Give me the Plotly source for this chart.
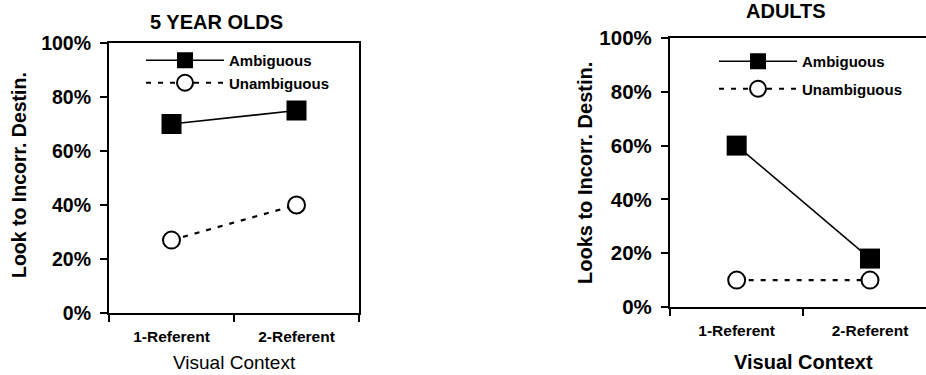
import plotly.graph_objects as go

categories = ["1-Referent", "2-Referent"]
kids_ambiguous = [70, 75]
kids_unambiguous = [27, 40]
adults_ambiguous = [60, 18]
adults_unambiguous = [10, 10]
y_ticks = [0, 20, 40, 60, 80, 100]
y_tick_labels = ["0%", "20%", "40%", "60%", "80%", "100%"]

FONT = "Arial, Liberation Sans, sans-serif"
W, H = 926, 375

def px(x):
    return x / W

def py(y):
    return 1 - y / H

fig = go.Figure()

def add_pair(amb, unamb, xa, ya, legend):
    fig.add_trace(go.Scatter(
        x=categories, y=amb, name="Ambiguous", mode="lines+markers",
        xaxis=xa, yaxis=ya, legend=legend, legendgroup=legend + "a",
        line=dict(color="black", width=1.6),
        marker=dict(symbol="square", size=20, color="black"),
    ))
    fig.add_trace(go.Scatter(
        x=categories, y=unamb, name="Unambiguous", mode="lines+markers",
        xaxis=xa, yaxis=ya, legend=legend, legendgroup=legend + "u",
        line=dict(color="black", width=2.2, dash="5px,7px"),
        marker=dict(symbol="circle", size=17, color="white",
                    line=dict(color="black", width=2)),
    ))

add_pair(kids_ambiguous, kids_unambiguous, "x", "y", "legend")
add_pair(adults_ambiguous, adults_unambiguous, "x2", "y2", "legend2")

axis_common = dict(showgrid=False, zeroline=False, showline=True,
                   linecolor="black", linewidth=2.2, ticks="outside",
                   tickcolor="black", tickwidth=2, ticklen=7,
                   automargin=False)

fig.update_layout(
    template="none",
    width=W, height=H,
    margin=dict(l=0, r=0, t=0, b=0, autoexpand=False),
    paper_bgcolor="white", plot_bgcolor="white",
    font=dict(family=FONT, color="black"),
    xaxis=dict(domain=[px(109), px(359)], anchor="y", type="category",
               range=[-0.5, 1.5], tickson="boundaries", mirror=True,
               tickfont=dict(size=15.5, weight="bold"), ticklabelstandoff=8,
               **axis_common),
    yaxis=dict(domain=[py(313), py(43)], anchor="x", range=[0, 100],
               tickvals=y_ticks, ticktext=y_tick_labels, mirror=True,
               tickfont=dict(size=19.5, weight="bold"), ticklabelstandoff=5,
               **axis_common),
    xaxis2=dict(domain=[px(670), 1.0], anchor="y2", type="category",
                range=[-0.5, 1.42], tickson="boundaries", mirror=True,
                tickfont=dict(size=15.5, weight="bold"), ticklabelstandoff=8,
                **axis_common),
    yaxis2=dict(domain=[py(307), py(38)], anchor="x2", range=[0, 100],
                tickvals=y_ticks, ticktext=y_tick_labels,
                tickfont=dict(size=20.5, weight="bold"), ticklabelstandoff=5,
                **axis_common),
    legend=dict(x=px(141), y=py(44), xanchor="left", yanchor="top",
                bgcolor="rgba(0,0,0,0)", itemwidth=78, tracegroupgap=0,
                font=dict(size=15, weight="bold"), itemclick=False),
    legend2=dict(x=px(714), y=py(45), xanchor="left", yanchor="top",
                 bgcolor="rgba(0,0,0,0)", itemwidth=78, tracegroupgap=5,
                 font=dict(size=15, weight="bold"), itemclick=False),
)

annotations = [
    dict(text="<b>5 YEAR OLDS</b>", x=px(216), y=py(22), font=dict(size=20)),
    dict(text="<b>ADULTS</b>", x=px(786), y=py(11), font=dict(size=20)),
    dict(text="<b>Look to Incorr. Destin.</b>", x=px(19), y=py(175),
         textangle=-90, font=dict(size=19.5)),
    dict(text="<b>Looks to Incorr. Destin.</b>", x=px(585), y=py(173),
         textangle=-90, font=dict(size=20)),
    dict(text="Visual Context", x=px(234), y=py(362), font=dict(size=19)),
    dict(text="<b>Visual Context</b>", x=px(803), y=py(362), font=dict(size=20)),
]
for a in annotations:
    fig.add_annotation(xref="paper", yref="paper", showarrow=False,
                       xanchor="center", yanchor="middle", **a)

fig.write_html(
    "out.html",
    config={"displayModeBar": False},
    post_script="document.body.style.margin='0px';"
                "document.documentElement.style.overflow='hidden';",
)
